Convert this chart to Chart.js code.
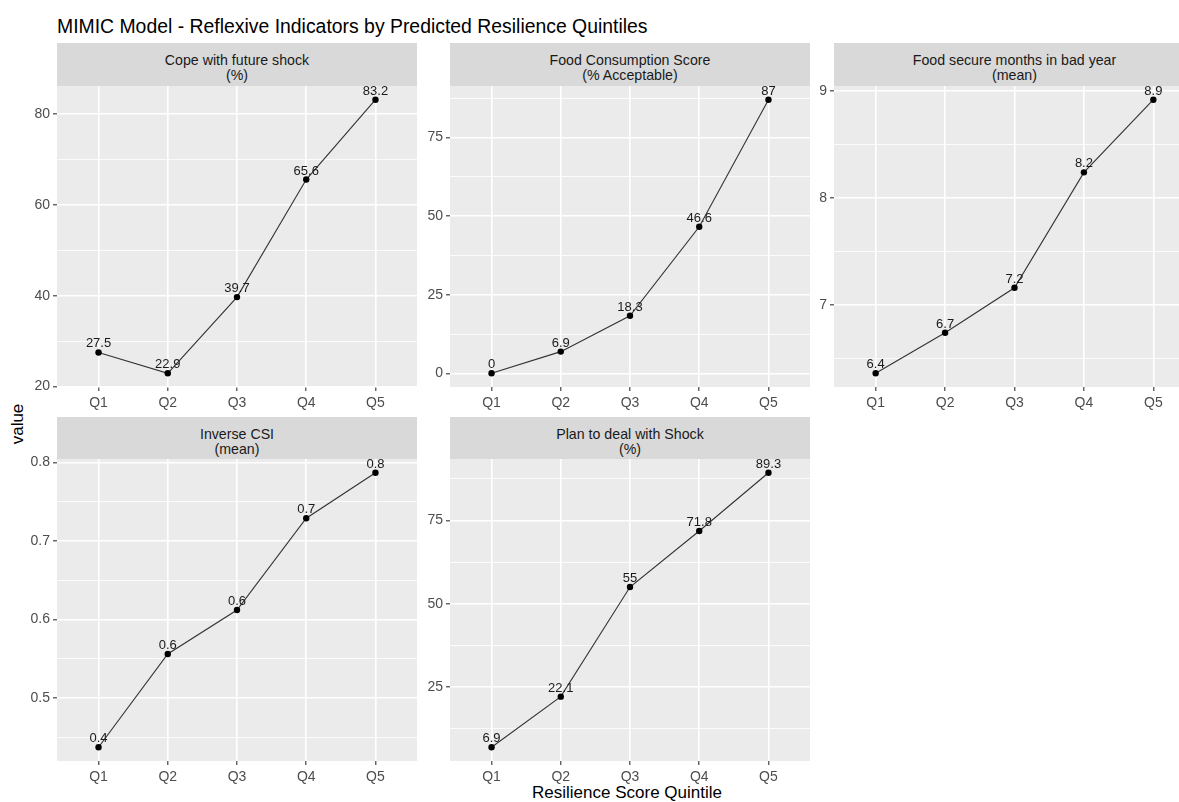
<!DOCTYPE html>
<html>
<head>
<meta charset="utf-8">
<script src="https://cdn.jsdelivr.net/npm/chart.js@4.4.0/dist/chart.umd.min.js"></script>
<style>
  body { margin: 0; width: 1179px; height: 802px; overflow: hidden; background: #fff; position: relative;
         font-family: "Liberation Sans", Arial, sans-serif; }
  .title { position: absolute; left: 57px; top: 16px; font-size: 19.4px; line-height: 20px; color: #000; white-space: nowrap; }
  .strip { position: absolute; background: #D9D9D9; color: #1A1A1A; font-size: 14.2px;
           line-height: 15px; text-align: center; box-sizing: border-box; padding-top: 10px; white-space: nowrap; }
  .panel { position: absolute; }
  .xtitle { position: absolute; left: 427px; width: 400px; top: 784px; text-align: center; font-size: 17px; line-height: 17px; color: #000; }
  .ytitle { position: absolute; left: 17px; top: 424px; font-size: 17px; line-height: 17px; color: #000;
            transform: translate(-50%, -50%) rotate(-90deg); white-space: nowrap; }
</style>
</head>
<body>
<div class="title">MIMIC Model - Reflexive Indicators by Predicted Resilience Quintiles</div>
<div class="xtitle">Resilience Score Quintile</div>
<div class="ytitle">value</div>

<script>
const quintiles = ["Q1", "Q2", "Q3", "Q4", "Q5"];

const copeShock = [27.5, 22.9, 39.7, 65.6, 83.2];
const fcsAcceptable = [0, 6.9, 18.3, 46.6, 87];
const foodSecureMonths = [6.36, 6.74, 7.16, 8.24, 8.92];
const inverseCsi = [0.437, 0.556, 0.612, 0.729, 0.787];
const planShock = [6.9, 22.1, 55, 71.8, 89.3];

const copeTicks = [20, 40, 60, 80];
const fcsTicks = [0, 25, 50, 75];
const monthsTicks = [7, 8, 9];
const csiTicks = [0.5, 0.6, 0.7, 0.8];
const planTicks = [25, 50, 75];

const AXW = 45, AXH = 30, PAD = 15;
const cols = [[57, 360], [450, 360], [834, 361]];
const rows = [[43, 86, 387], [417, 459, 761]];

const panels = [
  { title: "Cope with future shock<br>(%)", values: copeShock, ticks: copeTicks, col: 0, row: 0 },
  { title: "Food Consumption Score<br>(% Acceptable)", values: fcsAcceptable, ticks: fcsTicks, col: 1, row: 0 },
  { title: "Food secure months in bad year<br>(mean)", values: foodSecureMonths, ticks: monthsTicks, col: 2, row: 0 },
  { title: "Inverse CSI<br>(mean)", values: inverseCsi, ticks: csiTicks, col: 0, row: 1 },
  { title: "Plan to deal with Shock<br>(%)", values: planShock, ticks: planTicks, col: 1, row: 1 }
];

const fontFamily = '"Liberation Sans", Arial, sans-serif';

const panelBg = {
  id: 'panelBg',
  beforeDraw(chart) {
    const a = chart.chartArea, ctx = chart.ctx;
    ctx.save();
    ctx.fillStyle = '#EBEBEB';
    ctx.fillRect(a.left, a.top, a.right - a.left, a.bottom - a.top);
    ctx.restore();
  }
};

const pointLabels = {
  id: 'pointLabels',
  afterDatasetsDraw(chart) {
    const ctx = chart.ctx;
    const meta = chart.getDatasetMeta(0);
    const vals = chart.data.datasets[0].data;
    ctx.save();
    ctx.font = '13px ' + fontFamily;
    ctx.fillStyle = '#1A1A1A';
    ctx.textAlign = 'center';
    ctx.textBaseline = 'alphabetic';
    meta.data.forEach((p, i) => {
      const v = vals[i].y;
      ctx.fillText(String(Number(v.toFixed(1))), p.x, p.y - 5);
    });
    ctx.restore();
  }
};

function makePanel(cfg) {
  const [left, width] = cols[cfg.col];
  const [stripTop, plotTop, plotBottom] = rows[cfg.row];

  const strip = document.createElement('div');
  strip.className = 'strip';
  strip.style.left = left + 'px';
  strip.style.top = stripTop + 'px';
  strip.style.width = width + 'px';
  strip.style.height = (plotTop - stripTop) + 'px';
  strip.innerHTML = cfg.title;
  document.body.appendChild(strip);

  // canvas reaches a bit past the panel so label overhang never shrinks the plot area
  const box = document.createElement('div');
  box.className = 'panel';
  box.style.left = (left - AXW) + 'px';
  box.style.top = (plotTop - PAD) + 'px';
  box.style.width = (width + AXW + PAD) + 'px';
  box.style.height = (plotBottom - plotTop + AXH + PAD) + 'px';
  const canvas = document.createElement('canvas');
  box.appendChild(canvas);
  document.body.appendChild(box);

  const lo = Math.min(...cfg.values), hi = Math.max(...cfg.values);
  const pad = (hi - lo) * 0.05;
  const ymin = lo - pad, ymax = hi + pad;

  // minor gridlines sit halfway between the major ones
  const step = cfg.ticks[1] - cfg.ticks[0];
  const minors = [];
  for (let t = cfg.ticks[0] - step / 2; t <= cfg.ticks[cfg.ticks.length - 1] + step / 2 + 1e-9; t += step) {
    if (t >= ymin && t <= ymax) minors.push(t);
  }
  const isMajor = v => cfg.ticks.some(t => Math.abs(t - v) < 1e-9);
  const allTicks = cfg.ticks.concat(minors).sort((a, b) => a - b);

  new Chart(canvas, {
    type: 'line',
    data: {
      datasets: [{
        data: cfg.values.map((v, i) => ({ x: i, y: v })),
        borderColor: '#333333',
        borderWidth: 1.1,
        pointRadius: 3.2,
        pointBackgroundColor: '#000',
        pointBorderWidth: 0,
        tension: 0,
        clip: false
      }]
    },
    options: {
      responsive: true,
      maintainAspectRatio: false,
      animation: false,
      layout: { padding: { top: PAD, right: PAD, left: 0, bottom: 0 } },
      plugins: { legend: { display: false }, tooltip: { enabled: false } },
      scales: {
        x: {
          type: 'linear',
          min: -0.6,
          max: 4.6,
          afterBuildTicks: s => { s.ticks = quintiles.map((q, i) => ({ value: i })); },
          afterFit: s => { s.height = AXH; },
          border: { display: false },
          grid: { color: '#FFFFFF', lineWidth: 1.6, tickColor: '#333333', tickLength: 4, tickWidth: 1.1 },
          ticks: {
            callback: v => quintiles[v],
            color: '#4D4D4D',
            font: { size: 14, family: fontFamily },
            padding: 4,
            maxRotation: 0
          }
        },
        y: {
          min: ymin,
          max: ymax,
          afterBuildTicks: s => { s.ticks = allTicks.map(v => ({ value: v })); },
          afterFit: s => { s.width = AXW; },
          border: { display: false },
          grid: {
            color: '#FFFFFF',
            lineWidth: c => isMajor(c.tick.value) ? 1.6 : 0.8,
            tickColor: c => isMajor(c.tick.value) ? '#333333' : 'rgba(0,0,0,0)',
            tickLength: 4,
            tickWidth: 1.1
          },
          ticks: {
            callback: v => isMajor(v) ? String(v) : '',
            color: '#4D4D4D',
            font: { size: 14, family: fontFamily },
            padding: 3
          }
        }
      }
    },
    plugins: [panelBg, pointLabels]
  });
}

panels.forEach(makePanel);
</script>
</body>
</html>
